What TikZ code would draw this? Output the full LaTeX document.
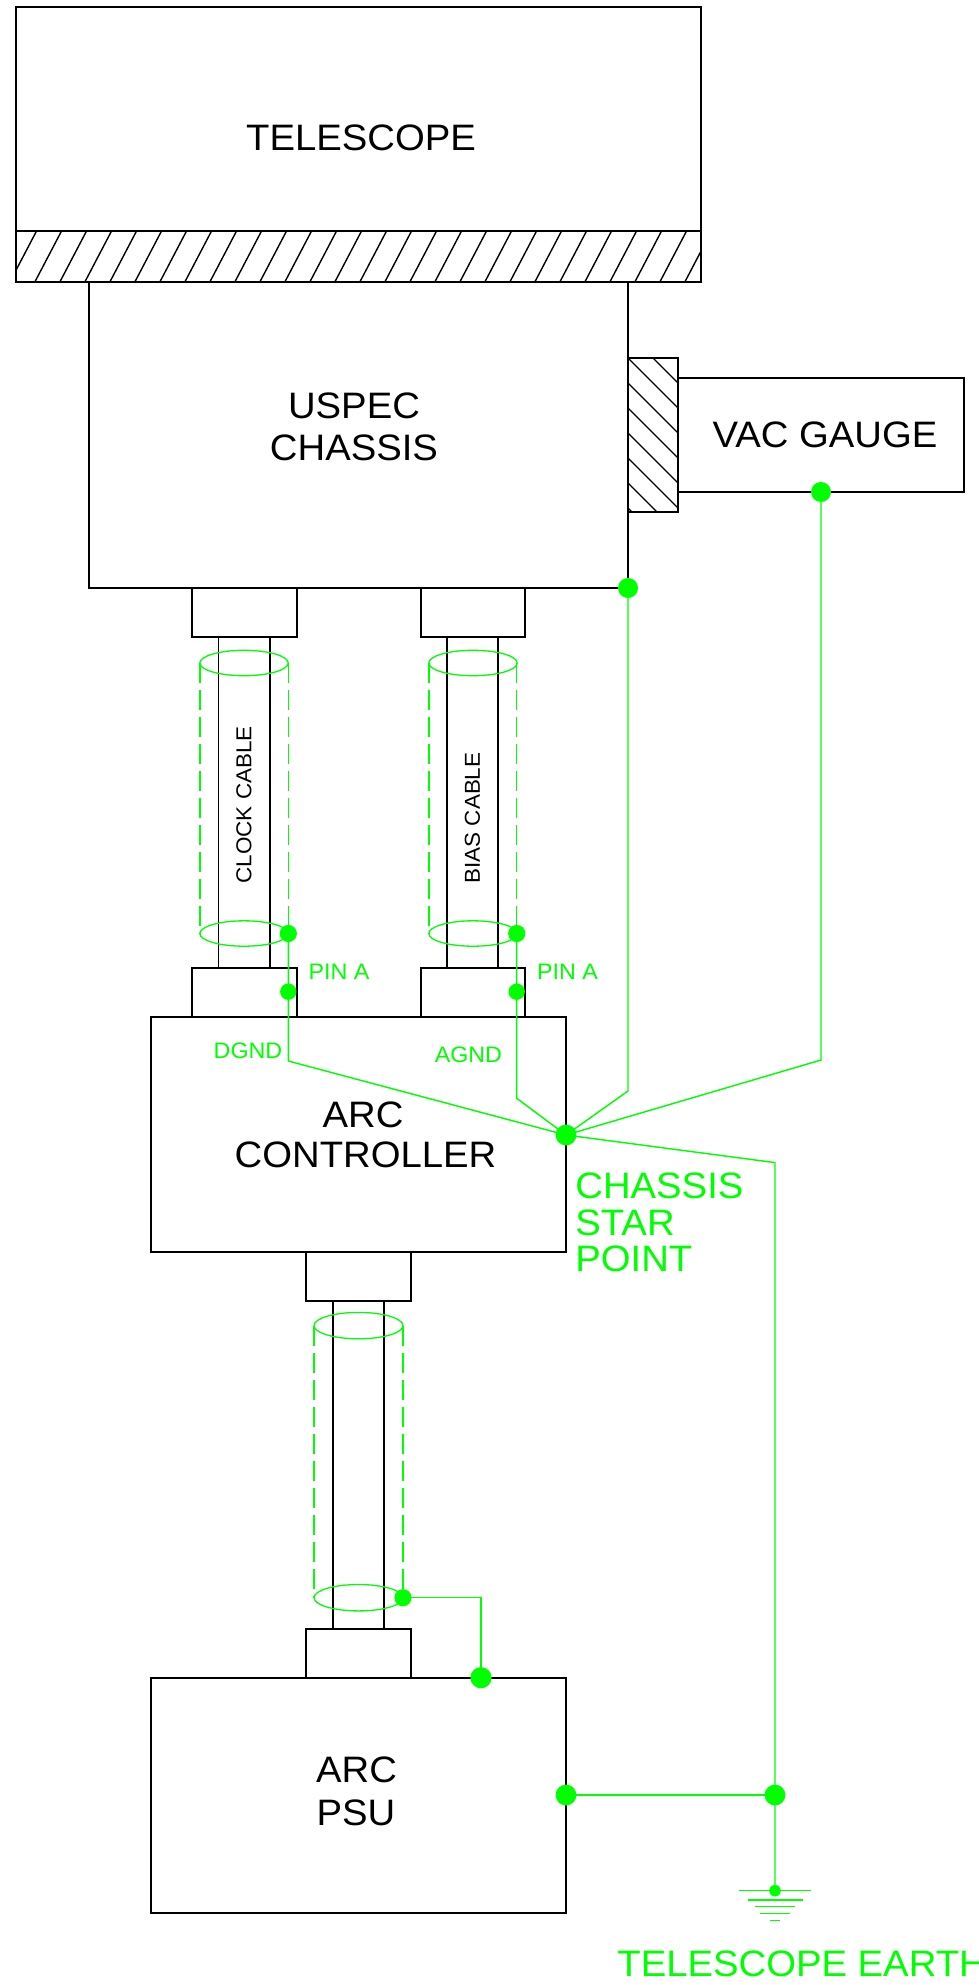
\documentclass[tikz,border=0pt]{standalone}
\usepackage{fontspec}
\setmainfont{Liberation Sans}[FakeStretch=1.04]
\usetikzlibrary{fit}
\definecolor{gr}{RGB}{0,255,0}
\tikzset{
  box/.style={draw=black, line width=0.85pt, inner sep=0pt, outer sep=0pt},
  blk/.style={draw=black, line width=0.85pt},
  hatchline/.style={draw=black, line width=0.7pt},
  wire/.style={draw=gr, line width=0.72pt},
  shield/.style={draw=gr, line width=0.65pt, dash pattern=on 10pt off 3.5pt},
  ring/.style={draw=gr, line width=0.65pt},
  big/.style={font=\fontsize{18.4}{22}\selectfont, inner sep=0pt, text=black},
  biggr/.style={font=\fontsize{18.4}{22}\selectfont, inner sep=0pt, text=gr},
  small/.style={font=\fontsize{11.2}{13}\selectfont, inner sep=0pt, text=gr},
  cablelbl/.style={font=\fontsize{10.8}{13}\selectfont, inner sep=0pt, text=black, rotate=90, anchor=west},
}
\begin{document}
\begin{tikzpicture}[x=0.5pt,y=-0.5pt]
\useasboundingbox (0,0) rectangle (979,1985);
\fill[white] (0,0) rectangle (979,1985);

% ---------- telescope ----------
\node[box, fit={(16,7) (701,230.7)}] (tel) {};
\begin{scope}
  \clip (16,230.7) rectangle (701,281.7);
  \foreach \k in {-2,...,28} \draw[hatchline] ({35+25*\k},281.7) -- ({61.7+25*\k},230.7);
\end{scope}
\node[box, fit={(16,230.7) (701,281.7)}] (band) {};
\node[big] (ttel) at (361,137.5) {TELESCOPE};

% ---------- chassis ----------
\node[box, fit={(89,281.7) (628,588)}] (chassis) {};
\node[big] (tus) at (354,405.5) {USPEC};
\node[big] (tch) at (354,448) {CHASSIS};

% ---------- vac gauge ----------
\begin{scope}
  \clip (628,358) rectangle (678,512);
  \foreach \k in {-3,...,7} \draw[hatchline] (628,{358+25*\k}) -- (678,{408+25*\k});
\end{scope}
\node[box, fit={(628,358) (678,512)}] (flange) {};
\node[box, fit={(678,378) (964,492)}] (vac) {};
\node[big] (tvac) at (825,435) {VAC GAUGE};

% ---------- clock cable ----------
\node[box, fit={(192,588) (297,637)}] (uc1) {};
\node[box, fit={(192,968.3) (297,1016.7)}] (lc1) {};
\draw[blk] (218.5,637) -- (218.5,968.3);
\draw[blk] (270,637) -- (270,968.3);
\node[cablelbl] (tclk) at (244,884) {CLOCK CABLE};
\draw[ring] (244,663) ellipse [x radius=22.1pt, y radius=6.35pt];
\draw[ring] (244,933.5) ellipse [x radius=22.1pt, y radius=6.35pt];
\draw[shield] (200,663) -- (200,933.5);
\draw[shield] (288.3,663) -- (288.3,933.5);

% ---------- bias cable ----------
\node[box, fit={(421,588) (525,637)}] (uc2) {};
\node[box, fit={(421,968.3) (525,1016.7)}] (lc2) {};
\draw[blk] (447,637) -- (447,968.3);
\draw[blk] (498,637) -- (498,968.3);
\node[cablelbl] (tbias) at (472.5,884) {BIAS CABLE};
\draw[ring] (473,663) ellipse [x radius=22.1pt, y radius=6.35pt];
\draw[ring] (473,933.5) ellipse [x radius=22.1pt, y radius=6.35pt];
\draw[shield] (429,663) -- (429,933.5);
\draw[shield] (516.7,663) -- (516.7,933.5);

% ---------- ARC controller ----------
\node[box, fit={(151,1016.7) (566,1252)}] (arc) {};
\node[big] (tarc1) at (363,1115) {ARC};
\node[big] (tarc2) at (365.5,1155) {CONTROLLER};

% ---------- PSU cable ----------
\node[box, fit={(306,1252) (411,1300.7)}] (uc3) {};
\node[box, fit={(306,1629) (411,1677.7)}] (lc3) {};
\draw[blk] (333,1300.7) -- (333,1629);
\draw[blk] (384,1300.7) -- (384,1629);
\draw[ring] (358.5,1325.6) ellipse [x radius=22.25pt, y radius=6.6pt];
\draw[ring] (358.5,1597.7) ellipse [x radius=22.25pt, y radius=6.6pt];
\draw[shield] (314,1325.6) -- (314,1597.7);
\draw[shield] (403,1325.6) -- (403,1597.7);

% ---------- PSU ----------
\node[box, fit={(151,1677.7) (566,1912.7)}] (psu) {};
\node[big] (tpsu1) at (356.5,1769.5) {ARC};
\node[big] (tpsu2) at (356,1813) {PSU};

% ---------- ground points ----------
\coordinate (cd1) at (288.3,933.5);
\coordinate (cd2) at (288.3,991.7);
\coordinate (cb) at (288.3,1061);
\coordinate (bd1) at (516.7,933.5);
\coordinate (bd2) at (516.7,991.7);
\coordinate (bb) at (516.7,1098.3);
\coordinate (star) at (566,1135);
\coordinate (chd) at (628,588);
\coordinate (chb) at (628,1091);
\coordinate (vd) at (821,492);
\coordinate (vb) at (821,1060);
\coordinate (ec) at (775,1162.6);
\coordinate (pd) at (566,1795);
\coordinate (ed) at (775,1795);
\coordinate (gnd) at (775,1890.7);
\coordinate (sd) at (403,1597.7);
\coordinate (sc) at (481,1597.7);
\coordinate (sd2) at (481,1677.7);

\draw[wire] (cd1) -- (cd2) -- (cb) -- (star);
\draw[wire] (bd1) -- (bd2) -- (bb) -- (star);
\draw[wire] (chd) -- (chb) -- (star);
\draw[wire] (vd) -- (vb) -- (star);
\draw[wire] (star) -- (ec) -- (ed) -- (gnd);
\draw[wire] (pd) -- (ed);
\draw[wire] (sd) -- (sc) -- (sd2);

\fill[gr] (cd1) circle (4.3pt);
\fill[gr] (cd2) circle (4.1pt);
\fill[gr] (bd1) circle (4.3pt);
\fill[gr] (bd2) circle (4.1pt);
\fill[gr] (star) circle (5.2pt);
\fill[gr] (chd) circle (5pt);
\fill[gr] (vd) circle (5pt);
\fill[gr] (pd) circle (5.2pt);
\fill[gr] (ed) circle (5.2pt);
\fill[gr] (sd) circle (4.3pt);
\fill[gr] (sd2) circle (5.3pt);
\fill[gr] (gnd) circle (2.9pt);

% earth symbol
\draw[wire] (739,1890.7) -- (811,1890.7);
\draw[wire] (747.5,1900) -- (802.5,1900);
\draw[wire] (755,1906.7) -- (795,1906.7);
\draw[wire] (760,1913.3) -- (790,1913.3);
\draw[wire] (770,1920.7) -- (780,1920.7);

% ---------- labels ----------
\node[small, anchor=west] (pa1) at (308.3,971.7) {PIN A};
\node[small, anchor=west] (pa2) at (536.7,971.7) {PIN A};
\node[small] (dg) at (248,1051) {DGND};
\node[small] (ag) at (468.4,1055) {AGND};
\node[biggr, anchor=west] (sp1) at (575,1186) {CHASSIS};
\node[biggr, anchor=west] (sp2) at (575,1222.5) {STAR};
\node[biggr, anchor=west] (sp3) at (575,1258.5) {POINT};
\node[biggr, anchor=west] (te) at (617,1964) {TELESCOPE EARTH};
\end{tikzpicture}
\end{document}
